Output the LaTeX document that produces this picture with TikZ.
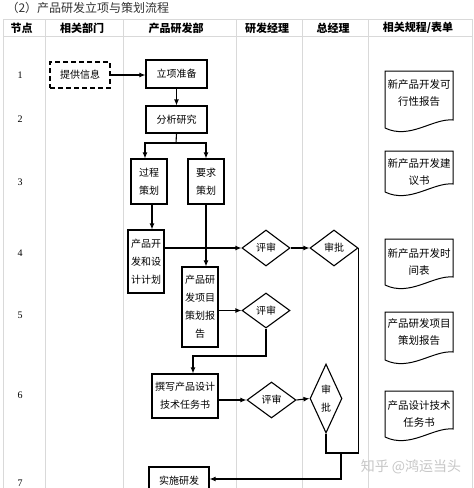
\documentclass[tikz,border=0pt]{standalone}
\usepackage{fontspec}
\setmainfont{Liberation Serif}
\newfontfamily\cjk{Noto Sans CJK SC}
\usetikzlibrary{shapes.geometric,arrows.meta,calc}
\newcommand\docframe[3]{%
  \draw[line width=1pt] ($(#1.center)+(-34,#3)$) -- ($(#1.center)+(-34,-#2)$) -- ($(#1.center)+(34,-#2)$) -- ($(#1.center)+(34,#3-8)$)
    .. controls ($(#1.center)+(14,#3-10)$) and ($(#1.center)+(-9,#3+12)$) .. ($(#1.center)+(-34,#3)$);}
\begin{document}
\begin{tikzpicture}[x=1pt,y=-1pt,
  gridline/.style={draw=black!15, line width=0.8pt},
  hdr/.style={font=\cjk\bfseries\fontsize{11}{13}\selectfont},
  num/.style={font=\fontsize{10}{12}\selectfont},
  box/.style={draw, line width=1.1pt, inner sep=0pt, align=center, font=\cjk\fontsize{10}{18}\selectfont},
  dbox/.style={box, dash pattern=on 5pt off 3pt},
  dia/.style={draw, line width=1.1pt, shape=diamond, inner sep=0pt, align=center, font=\cjk\fontsize{10}{18}\selectfont},
  docnode/.style={inner sep=0pt, align=center, font=\cjk\fontsize{10.5}{17}\selectfont},
  arr/.style={line width=1.1pt, -{Latex[length=6pt,width=5pt]}},
  ln/.style={line width=1.1pt},
]
\fill[white] (0,0) rectangle (474,488);
\useasboundingbox (0,0) rectangle (474,488);
% table grid
\draw[gridline] (3,19) -- (472,19);
\draw[gridline] (3,36) -- (472,36);
\foreach \x in {3,45,123,236,302,368,472} \draw[gridline] (\x,19) -- (\x,488);
% title
\node[anchor=west, font=\cjk\fontsize{12}{14}\selectfont, text=black!80] (title) at (3,8) {（2）产品研发立项与策划流程};
% headers
\node[hdr, anchor=west] (h1) at (7,28) {节点};
\node[hdr] (h2) at (82,28) {相关部门};
\node[hdr] (h3) at (176,28) {产品研发部};
\node[hdr] (h4) at (267,28) {研发经理};
\node[hdr] (h5) at (333,28) {总经理};
\node[hdr] (h6) at (418,28) {相关规程/表单};
% node numbers
\node[num] (n1) at (20,75) {1};
\node[num] (n2) at (20,119) {2};
\node[num] (n3) at (20,182) {3};
\node[num] (n4) at (20,253) {4};
\node[num] (n5) at (20,315) {5};
\node[num] (n6) at (20,395) {6};
\node[num] (n7) at (20,483) {7};
% boxes
\node[dbox, minimum width=60pt, minimum height=26pt] (info) at (80,75) {提供信息};
\node[box, minimum width=61pt, minimum height=28pt] (lx) at (176.5,74) {立项准备};
\node[box, minimum width=61pt, minimum height=27pt] (fx) at (176.5,119.5) {分析研究};
\node[box, minimum width=36pt, minimum height=45pt] (gc) at (149,181.5) {过程\\策划};
\node[box, minimum width=36pt, minimum height=45pt] (yq) at (206,181.5) {要求\\策划};
\node[box, minimum width=36pt, minimum height=63pt] (kf) at (146,261.5) {产品开\\发和设\\计计划};
\node[box, minimum width=36pt, minimum height=80pt] (bg) at (200,307) {产品研\\发项目\\策划报\\告};
\node[box, minimum width=66pt, minimum height=44pt] (zx) at (185,396) {撰写产品设计\\技术任务书};
\node[box, minimum width=60pt, minimum height=28pt] (ss) at (179,481) {实施研发};
% diamonds
\node[dia, minimum width=48pt, minimum height=36pt] (ps1) at (266,248) {评审};
\node[dia, minimum width=48pt, minimum height=36pt] (sp1) at (334,248) {审批};
\node[dia, minimum width=48pt, minimum height=35pt] (ps2) at (266,310.5) {评审};
\node[dia, minimum width=49pt, minimum height=36pt] (ps3) at (271.5,400) {评审};
\node[dia, aspect=0.46, minimum width=32pt, minimum height=69pt] (sp2) at (326,398.5) {审\\批};
% documents
\node[docnode] (d1) at (419,93.5) {新产品开发可\\行性报告};
\docframe{d1}{22.5}{34.5}
\node[docnode] (d2) at (419,172) {新产品开发建\\议书};
\docframe{d2}{21}{20}
\node[docnode] (d3) at (419,261.5) {新产品开发时\\间表};
\docframe{d3}{22.5}{23.5}
\node[docnode] (d4) at (419,332.5) {产品研发项目\\策划报告};
\docframe{d4}{20.5}{27.5}
\node[docnode] (d5) at (419,413.5) {产品设计技术\\任务书};
\docframe{d5}{22.5}{23.5}
% watermark
\node[font=\cjk\fontsize{14}{16}\selectfont, text=black!22] (wm) at (411,467) {知乎 @鸿运当头};
% connectors
\draw[arr] (info.east) -- (info.east -| lx.west);
\draw[arr] (lx.south) -- (fx.north);
\coordinate (br) at (176,143);
\draw[ln] (fx.south) -- (br);
\draw[arr] (br) -| ([xshift=-4pt]gc.north);
\draw[arr] (br) -| (yq.north);
\coordinate (g1) at ([xshift=3pt]gc.south);
\draw[arr] (g1) -- (g1 |- kf.north);
\draw[arr] (yq.south) -- (yq.south |- bg.north);
\draw[arr] (ps1.west -| kf.east) -- (ps1.west);
\draw[arr] (ps1.east) -- (sp1.west);
\draw[arr] (ps2.west -| bg.east) -- (ps2.west);
\coordinate (c2) at (193,356);
\draw[arr] (ps2.south) |- (c2) -- (c2 |- zx.north);
\draw[arr] (ps3.west -| zx.east) -- (ps3.west);
\draw[arr] (ps3.east) -- (sp2.west);
\coordinate (j2) at (341,453);
\draw[ln] (sp1.east) |- (j2);
\draw[ln] (sp2.south) |- (j2);
\coordinate (j3) at (341,479);
\draw[arr] (j2) -- (j3) -- (j3 -| ss.east);
\end{tikzpicture}
\end{document}
